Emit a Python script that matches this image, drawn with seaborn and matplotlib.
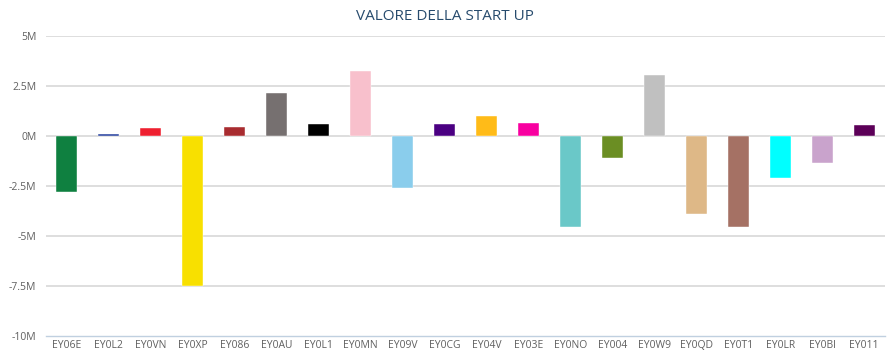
import matplotlib
matplotlib.use("Agg")
import matplotlib.pyplot as plt
import matplotlib.ticker as mticker
import seaborn as sns
import pandas as pd

categories = ["EY06E", "EY0L2", "EY0VN", "EY0XP", "EY086", "EY0AU", "EY0L1",
              "EY0MN", "EY09V", "EY0CG", "EY04V", "EY03E", "EY0NO", "EY004",
              "EY0W9", "EY0QD", "EY0T1", "EY0LR", "EY0BI", "EY011"]
values_m = [-2.78, 0.1, 0.38, -7.48, 0.46, 2.15, 0.62,
            3.26, -2.62, 0.62, 1.02, 0.67, -4.55, -1.08,
            3.03, -3.90, -4.55, -2.08, -1.33, 0.57]
colors = ["#0f8040", "#2a44a0", "#ee2030", "#f8e000", "#a82c30", "#767070", "#000000",
          "#f8c0cc", "#8acdec", "#4b0082", "#ffbb18", "#f800a0", "#6ac8c8", "#6b8e23",
          "#c0c0c0", "#deb887", "#a57164", "#00ffff", "#c9a3cc", "#5c0058"]
y_ticks = [-10, -7.5, -5, -2.5, 0, 2.5, 5]
title = "VALORE DELLA START UP"

sns.set_theme(style="white")
plt.rcParams["font.family"] = ["Open Sans", "DejaVu Sans"]

df = pd.DataFrame({"cat": categories, "val": values_m})

fig = plt.figure(figsize=(8.9, 3.52), dpi=100)
ax = fig.add_axes([46 / 890, 1 - 336 / 352, (885 - 46) / 890, 300 / 352])

sns.barplot(data=df, x="cat", y="val", hue="cat", palette=colors, legend=False,
            saturation=1, width=0.5, edgecolor="white", linewidth=0.3, ax=ax, zorder=3)

ax.set_ylim(-10, 5)
ax.set_xlim(-0.5, len(categories) - 0.5)
ax.set_yticks(y_ticks)

def fmt(v, pos):
    return ("%g" % v) + "M"

ax.yaxis.set_major_formatter(mticker.FuncFormatter(fmt))
for t in y_ticks:
    if t != -10:
        ax.axhline(t, color="#d8d8d8", linewidth=1.2, zorder=1)

for s in ["top", "right", "left"]:
    ax.spines[s].set_visible(False)
ax.spines["bottom"].set_color("#c0d0e0")
ax.spines["bottom"].set_linewidth(1.0)

ax.set_xlabel("")
ax.set_ylabel("")
ax.tick_params(axis="y", length=0, labelsize=7.5, labelcolor="#606060", pad=7)
ax.tick_params(axis="x", which="major", length=0, labelsize=7.5, labelcolor="#606060", pad=3)
ax.set_xticks([i + 0.5 for i in range(len(categories) - 1)], minor=True)
ax.tick_params(axis="x", which="minor", length=5, color="#c0d0e0", width=1, direction="out")

fig.text(0.5, 1 - 17 / 352, title, ha="center", va="center", fontsize=11,
         color="#274b6d")

fig.savefig("out.png", dpi=100)
